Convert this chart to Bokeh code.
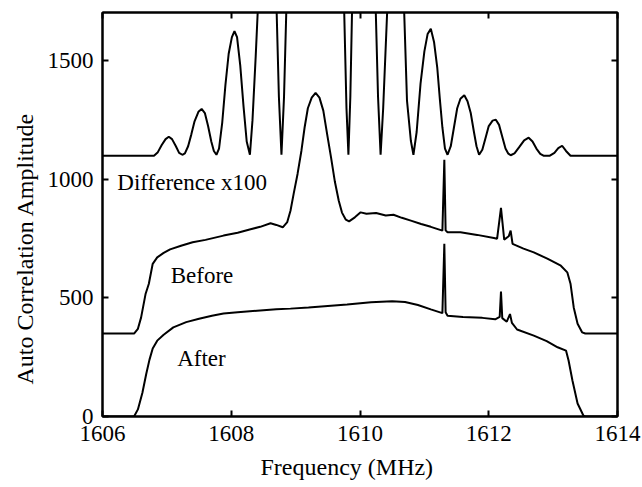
from bokeh.plotting import figure
from bokeh.models import LinearAxis, FixedTicker, Range1d, Title
from bokeh.core.properties import value
from bokeh.embed import file_html
from bokeh.resources import INLINE

# ---- data ----
x_ticks = [1606, 1608, 1610, 1612, 1614]
y_ticks = [0, 500, 1000, 1500]

after_f = [1606.0, 1606.49, 1606.55, 1606.62, 1606.68, 1606.73, 1606.78, 1606.85, 1606.95,
           1607.1, 1607.3, 1607.5, 1607.7, 1607.88, 1608.1, 1608.4, 1608.7, 1608.92, 1609.2,
           1609.5, 1609.8, 1610.17, 1610.5, 1610.7, 1610.9, 1611.1, 1611.28, 1611.31, 1611.33,
           1611.36, 1611.6, 1611.9, 1612.1, 1612.17, 1612.19, 1612.21, 1612.28, 1612.33,
           1612.36, 1612.44, 1612.7, 1612.9, 1613.07, 1613.2, 1613.24, 1613.3, 1613.38,
           1613.47, 1613.5, 1614.0]
after_v = [0, 0, 30, 100, 180, 240, 287, 320, 345,
           376, 398, 412, 425, 434, 440, 446, 452, 455, 460,
           466, 472, 482, 486, 483, 470, 452, 436, 729, 440,
           425, 420, 416, 410, 420, 527, 415, 400, 432,
           395, 367, 341, 318, 292, 278, 236, 152, 55,
           4, 0, 0]

before_f = [1606.0, 1606.49, 1606.55, 1606.6, 1606.67, 1606.72, 1606.78, 1606.85, 1606.95,
            1607.05, 1607.22, 1607.4, 1607.6, 1607.88, 1608.1, 1608.3, 1608.45, 1608.61,
            1608.7, 1608.8, 1608.87, 1608.92, 1608.97, 1609.03, 1609.09, 1609.14, 1609.19,
            1609.25, 1609.31, 1609.37, 1609.43, 1609.49, 1609.55, 1609.61, 1609.67, 1609.72,
            1609.78, 1609.83, 1609.92, 1610.01, 1610.1, 1610.25,
            1610.4, 1610.52, 1610.65, 1610.79, 1610.95, 1611.1, 1611.28, 1611.31, 1611.33,
            1611.36, 1611.56, 1611.82, 1612.08, 1612.13, 1612.19, 1612.24, 1612.31, 1612.34,
            1612.37, 1612.54, 1612.7, 1612.91, 1613.12, 1613.22, 1613.27, 1613.32, 1613.38,
            1613.45, 1613.5, 1614.0]
before_v = [350, 350, 370, 418, 518, 560, 644, 671, 690,
            705, 720, 735, 745, 763, 775, 790, 800, 815,
            808, 798, 820, 868, 940, 1023, 1121, 1220, 1300,
            1345, 1365, 1345, 1290, 1190, 1093, 990, 910, 860,
            830, 823, 840, 861, 855, 858,
            848, 851, 838, 826, 812, 800, 784, 1083, 785,
            777, 777, 766, 753, 750, 880, 746, 760, 784,
            728, 708, 692, 666, 636, 608, 560, 460, 391,
            355, 350, 350]

diff_f = [1606.0, 1606.8, 1606.86, 1606.92, 1606.98, 1607.03, 1607.08, 1607.14, 1607.19, 1607.24,
          1607.28, 1607.33, 1607.38, 1607.43, 1607.49, 1607.54, 1607.59, 1607.64, 1607.69,
          1607.73, 1607.77,
          1607.81, 1607.86, 1607.91, 1607.96, 1608.01, 1608.05, 1608.09, 1608.14, 1608.19,
          1608.24, 1608.29,
          1608.33, 1608.38, 1608.42, 1608.55, 1608.7, 1608.74, 1608.78, 1608.82, 1608.86,
          1609.3, 1609.75, 1609.79, 1609.82, 1609.85, 1609.88,
          1610.05, 1610.24, 1610.28, 1610.32, 1610.36, 1610.43,
          1610.55, 1610.68, 1610.73, 1610.79, 1610.83, 1610.88, 1610.94, 1611.0, 1611.05,
          1611.1, 1611.15, 1611.2, 1611.24, 1611.28, 1611.32, 1611.36,
          1611.41, 1611.46, 1611.51, 1611.56, 1611.62, 1611.67, 1611.72, 1611.77, 1611.81,
          1611.85,
          1611.9, 1611.95, 1612.0, 1612.06, 1612.11, 1612.16, 1612.21, 1612.26, 1612.3, 1612.34,
          1612.4, 1612.47, 1612.55, 1612.62, 1612.68, 1612.74, 1612.8, 1612.85,
          1612.95, 1613.02, 1613.08, 1613.14, 1613.2, 1613.27, 1614.0]
diff_v = [1100, 1100, 1115, 1145, 1170, 1180, 1170, 1140, 1112, 1104,
          1110, 1140, 1190, 1245, 1285, 1297, 1280, 1225, 1160,
          1120, 1104,
          1130, 1240, 1400, 1530, 1600, 1625, 1600, 1480, 1310,
          1160, 1104,
          1250, 1520, 1760, 3000, 1760, 1350, 1104, 1350, 1760,
          6000, 1760, 1300, 1104, 1350, 1760,
          3000, 1760, 1350, 1104, 1300, 1760,
          3000, 1760, 1332, 1163, 1104, 1200, 1403, 1540, 1613,
          1635, 1580, 1472, 1340, 1219, 1130, 1104,
          1140, 1220, 1300, 1340, 1355, 1330, 1280, 1200, 1140,
          1104,
          1125, 1175, 1225, 1248, 1252, 1230, 1180, 1130, 1110, 1102,
          1110, 1135, 1165, 1176, 1160, 1130, 1108, 1100,
          1100, 1112, 1132, 1142, 1120, 1100, 1100]

labels = ["Difference x100", "Before", "After"]
label_x = [1606.23, 1607.06, 1607.16]
label_y = [987, 594, 243]

x_title = "Frequency (MHz)"
y_title = "Auto Correlation Amplitude"

FONT = "Liberation Serif"

p = figure(width=642, height=487, output_backend="svg", toolbar_location=None,
           x_range=Range1d(1606, 1614), y_range=Range1d(0, 1704),
           min_border_left=102, min_border_right=25, min_border_top=12, min_border_bottom=71)
p.grid.visible = False
p.outline_line_color = "black"
p.outline_line_width = 2
p.background_fill_color = "white"
p.border_fill_color = "white"

for xs, ys in [(after_f, after_v), (before_f, before_v), (diff_f, diff_v)]:
    p.line(xs, ys, line_color="black", line_width=2)

p.text(x=label_x, y=label_y, text=labels, text_font=value(FONT), text_font_size="23px",
       text_color="black", text_align="left", text_baseline="alphabetic")


def style_axis(ax, ticks, show_labels):
    ax.ticker = FixedTicker(ticks=ticks)
    ax.major_tick_in = 6
    ax.major_tick_out = 0
    ax.minor_tick_in = 0
    ax.minor_tick_out = 0
    ax.axis_line_width = 2
    ax.major_tick_line_width = 2
    ax.axis_line_color = "black"
    ax.major_tick_line_color = "black"
    ax.major_label_text_font = FONT
    ax.major_label_text_color = "black"
    if show_labels:
        ax.major_label_text_font_size = "23px"
    else:
        ax.major_label_text_font_size = "1px"
        ax.major_label_text_alpha = 0
        ax.major_label_overrides = {t: "" for t in ticks}
        ax.major_label_standoff = 0


xa = p.xaxis[0]
style_axis(xa, x_ticks, True)
xa.major_label_standoff = 9

ya = p.yaxis[0]
style_axis(ya, y_ticks, True)
ya.major_label_standoff = 9

top = LinearAxis()
style_axis(top, x_ticks, False)
p.add_layout(top, "above")
right = LinearAxis()
style_axis(right, y_ticks, False)
p.add_layout(right, "right")

# axis titles as side titles, so their position along the axis can be offset
p.add_layout(Title(text=x_title, align="left", offset=158, text_font=FONT,
                   text_font_size="24px", text_font_style="normal", text_color="black",
                   standoff=16), "below")
p.add_layout(Title(text=y_title, align="left", offset=32, text_font=FONT,
                   text_font_size="24px", text_font_style="normal", text_color="black",
                   standoff=14), "left")

open("out.html", "w").write(file_html(p, INLINE))
